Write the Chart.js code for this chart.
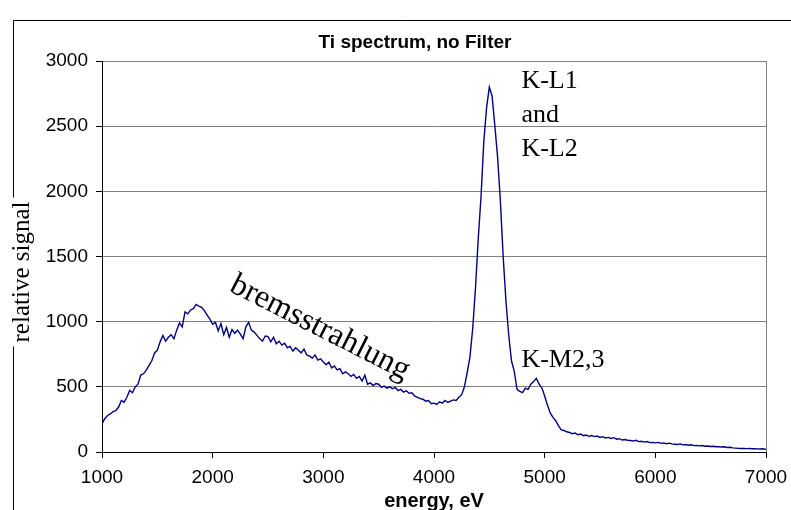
<!DOCTYPE html>
<html>
<head>
<meta charset="utf-8">
<script src="https://cdn.jsdelivr.net/npm/chart.js@4.4.1/dist/chart.umd.min.js"></script>
<style>
  html, body { margin: 0; padding: 0; background: #fff; }
  #wrap { width: 791px; height: 510px; position: relative; }
</style>
</head>
<body>
<div id="wrap"><canvas id="spectrumChart"></canvas></div>
<script>
// Ti spectrum, no filter - signal, one value every 25 eV from 1000 to 7000 eV
const energyStart = 1000;
const energyStep = 25;
const signal = [
    215, 255, 280, 292, 310, 318, 345, 395,
    382, 420, 472, 455, 500, 520, 590, 600,
    628, 665, 700, 760, 780, 845, 895, 850,
    880, 900, 870, 935, 990, 960, 1075, 1060,
    1090, 1100, 1132, 1120, 1110, 1085, 1050, 1020,
    980, 995, 930, 985, 900, 955, 880, 940,
    910, 935, 905, 870, 960, 995, 935, 920,
    895, 870, 850, 890, 885, 845, 880, 830,
    850, 820, 835, 800, 810, 775, 800, 780,
    760, 790, 745, 735, 720, 745, 705, 715,
    690, 670, 690, 645, 660, 630, 640, 600,
    615, 600, 580, 595, 565, 580, 545, 590,
    520, 530, 510, 525, 520, 495, 505, 490,
    500, 485, 495, 470, 480, 460, 470, 450,
    455, 430, 420, 410, 405, 390, 395, 370,
    375, 365, 385, 375, 395, 380, 390, 400,
    395, 420, 440, 500, 610, 730, 950, 1260,
    1640, 1960, 2380, 2640, 2800, 2730, 2500, 2260,
    1920, 1500, 1160, 900, 700, 620, 480, 465,
    455, 490, 480, 520, 540, 565, 520, 490,
    430, 360, 300, 265, 240, 200, 170, 165,
    155, 150, 140, 145, 132, 138, 125, 130,
    120, 126, 118, 122, 112, 118, 108, 112,
    104, 110, 98, 102, 92, 96, 90, 88,
    84, 90, 80, 82, 76, 80, 72, 74,
    70, 74, 66, 70, 64, 68, 62, 60,
    58, 62, 55, 57, 52, 55, 49, 51,
    47, 50, 44, 46, 42, 44, 40, 41,
    38, 40, 35, 36, 32, 30, 28, 27,
    28, 26, 27, 25, 26, 24, 23, 25,
    20
];
const xTicks = [1000, 2000, 3000, 4000, 5000, 6000, 7000];
const yTicks = [0, 500, 1000, 1500, 2000, 2500, 3000];

const peakLabels = ['K-L1', 'and', 'K-L2'];
const satLabel = 'K-M2,3';
const bremsLabel = 'bremsstrahlung';

const points = signal.map((v, i) => ({ x: energyStart + i * energyStep, y: v }));

const sans = "'Liberation Sans', Arial, sans-serif";
const serif = "'Liberation Serif', 'Times New Roman', serif";

// frame, plot border, y title and the text notes
const decorPlugin = {
    id: 'decor',
    beforeDraw(chart) {
        const ctx = chart.ctx;
        ctx.save();
        ctx.fillStyle = '#fff';
        ctx.fillRect(0, 0, chart.width, chart.height);
        ctx.restore();
    },
    afterDraw(chart) {
        const ctx = chart.ctx;
        const area = chart.chartArea;
        const xs = chart.scales.x;
        const ys = chart.scales.y;

        ctx.save();
        // right border of plot area
        ctx.strokeStyle = '#808080';
        ctx.lineWidth = 1;
        ctx.beginPath();
        ctx.moveTo(Math.round(area.right) + 0.5, area.top);
        ctx.lineTo(Math.round(area.right) + 0.5, area.bottom);
        ctx.stroke();

        // y title, rotated
        const yTitle = 'relative signal';
        const yTitleX = 22, yTitleY = 272;
        ctx.font = '25px ' + serif;
        const tw = ctx.measureText(yTitle).width;

        // outer frame, broken behind the y title
        ctx.strokeStyle = '#000';
        ctx.beginPath();
        ctx.moveTo(13.5, chart.height);
        ctx.lineTo(13.5, yTitleY + tw / 2 + 4);
        ctx.moveTo(13.5, yTitleY - tw / 2 - 4);
        ctx.lineTo(13.5, 20.5);
        ctx.lineTo(chart.width, 20.5);
        ctx.stroke();

        ctx.fillStyle = '#000';
        ctx.translate(yTitleX, yTitleY);
        ctx.rotate(-Math.PI / 2);
        ctx.textAlign = 'center';
        ctx.textBaseline = 'middle';
        ctx.fillText(yTitle, 0, 0);
        ctx.restore();

        // chart title
        ctx.save();
        ctx.fillStyle = '#000';
        ctx.font = 'bold 19px ' + sans;
        ctx.textAlign = 'center';
        ctx.textBaseline = 'middle';
        ctx.fillText('Ti spectrum, no Filter', 415, 43);

        // peak notes
        ctx.font = '26px ' + serif;
        ctx.textAlign = 'left';
        ctx.textBaseline = 'alphabetic';
        const px = xs.getPixelForValue(4790);
        peakLabels.forEach((t, i) => {
            ctx.fillText(t, px, ys.getPixelForValue(2790) + i * 34);
        });
        ctx.fillText(satLabel, px, ys.getPixelForValue(650));

        // bremsstrahlung, along the slope
        ctx.translate(xs.getPixelForValue(2140), ys.getPixelForValue(1240));
        ctx.rotate(27 * Math.PI / 180);
        ctx.font = '32px ' + serif;
        ctx.fillText(bremsLabel, 0, 0);
        ctx.restore();
    }
};

new Chart(document.getElementById('spectrumChart'), {
    type: 'line',
    data: {
        datasets: [{
            data: points,
            borderColor: '#000080',
            borderWidth: 1.4,
            pointRadius: 0,
            tension: 0,
            fill: false
        }]
    },
    options: {
        responsive: true,
        maintainAspectRatio: false,
        animation: false,
        events: [],
        layout: { padding: { top: 61, right: 25, left: 0, bottom: 0 } },
        plugins: {
            legend: { display: false },
            tooltip: { enabled: false },
            title: { display: false }
        },
        scales: {
            x: {
                type: 'linear',
                min: 1000,
                max: 7000,
                afterBuildTicks: s => { s.ticks = xTicks.map(v => ({ value: v })); },
                afterFit: s => { s.height = 58; s.paddingLeft = 0; s.paddingRight = 0; },
                ticks: {
                    color: '#000',
                    font: { family: sans, size: 19 },
                    padding: 8,
                    maxRotation: 0,
                    callback: v => String(v)
                },
                grid: { drawOnChartArea: false, tickLength: 6, color: '#000' },
                border: { color: '#000', width: 1 },
                title: {
                    display: true,
                    text: 'energy, eV',
                    color: '#000',
                    font: { family: sans, size: 20, weight: 'bold' },
                    padding: { top: 0, bottom: -3 }
                }
            },
            y: {
                min: 0,
                max: 3000,
                afterBuildTicks: s => { s.ticks = yTicks.map(v => ({ value: v })); },
                afterFit: s => { s.width = 102; },
                ticks: {
                    color: '#000',
                    font: { family: sans, size: 19 },
                    padding: 8,
                    callback: v => String(v)
                },
                grid: { color: '#808080', tickColor: '#000', tickLength: 6 },
                border: { color: '#000', width: 1 }
            }
        }
    },
    plugins: [decorPlugin]
});
</script>
</body>
</html>
